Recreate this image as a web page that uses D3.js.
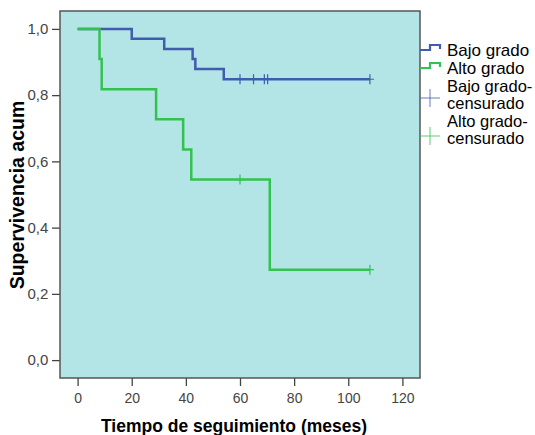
<!DOCTYPE html>
<html>
<head>
<meta charset="utf-8">
<script src="https://cdn.jsdelivr.net/npm/d3@7"></script>
<style>
  body { margin: 0; background: #fff; }
  text { font-family: Arial, "Liberation Sans", sans-serif; }
</style>
</head>
<body>
<svg id="chart" width="535" height="435"></svg>
<script>
// Kaplan-Meier steps: [time, survival]
const bajoSteps = [[0, 1], [20, 0.970], [32, 0.939], [42.5, 0.909], [43.5, 0.879], [54, 0.848], [108, 0.848]];
const altoSteps = [[0, 1], [8.1, 0.909], [8.9, 0.818], [29, 0.727], [39, 0.636], [42, 0.545], [71, 0.273], [108, 0.273]];
// censored observations
const bajoCens = [[60, 0.848], [65, 0.848], [69, 0.848], [70.2, 0.848], [108, 0.848]];
const altoCens = [[60, 0.545], [108, 0.273]];

const xTicks = [0, 20, 40, 60, 80, 100, 120];
const yTicks = [0, 0.2, 0.4, 0.6, 0.8, 1.0];

const BLUE = '#3f5cae';
const GREEN = '#33c24f';

const svg = d3.select('#chart');
const margin = {top: 11, right: 115, bottom: 57, left: 60};
const width = 535 - margin.left - margin.right;
const height = 435 - margin.top - margin.bottom;

const xScale = d3.scaleLinear().domain([-6.5, 126.5]).range([0, width]);
const yScale = d3.scaleLinear().domain([-0.054, 1.054]).range([height, 0]);

const chart = svg.append('g')
    .attr('transform', `translate(${margin.left},${margin.top})`);

// plot background
chart.append('rect')
    .attr('width', width)
    .attr('height', height)
    .attr('fill', '#b4e5e6');

// axes
const fmt = d => d3.format('.1f')(d).replace('.', ',');
const yAxis = chart.append('g')
    .call(d3.axisLeft(yScale).tickValues(yTicks).tickFormat(fmt).tickSize(8).tickSizeOuter(0));
const xAxis = chart.append('g')
    .attr('transform', `translate(0,${height})`)
    .call(d3.axisBottom(xScale).tickValues(xTicks).tickSize(8).tickSizeOuter(0));

[xAxis, yAxis].forEach(g => {
    g.select('.domain').remove();
    g.selectAll('line').attr('stroke', '#444').attr('stroke-width', 1.3);
    g.selectAll('text').attr('fill', '#444').style('font-size', '15px');
});
xAxis.selectAll('text').attr('y', 20).attr('dy', '0.35em').style('font-size', '14px');
yAxis.selectAll('text').attr('dx', '-0.05em');

// frame
chart.append('rect')
    .attr('width', width)
    .attr('height', height)
    .attr('fill', 'none')
    .attr('stroke', '#555')
    .attr('stroke-width', 1.5);

// step curves
const line = d3.line()
    .x(d => xScale(d[0]))
    .y(d => yScale(d[1]))
    .curve(d3.curveStepAfter);

chart.append('path')
    .datum(bajoSteps)
    .attr('d', line)
    .attr('fill', 'none')
    .attr('stroke', BLUE)
    .attr('stroke-width', 2.5);

chart.append('path')
    .datum(altoSteps)
    .attr('d', line)
    .attr('fill', 'none')
    .attr('stroke', GREEN)
    .attr('stroke-width', 2.5);

// censor marks
function drawCens(data, color) {
    chart.selectAll(null)
        .data(data)
        .join('path')
        .attr('d', d => {
            const x = xScale(d[0]), y = yScale(d[1]);
            return `M${x - 4},${y}H${x + 4}M${x},${y - 5}V${y + 5}`;
        })
        .attr('stroke', color)
        .attr('stroke-width', 1.2)
        .attr('fill', 'none');
}
drawCens(bajoCens, BLUE);
drawCens(altoCens, GREEN);

// axis titles
svg.append('text')
    .attr('x', 234)
    .attr('y', 431.5)
    .attr('text-anchor', 'middle')
    .attr('font-weight', 'bold')
    .style('font-size', '17.5px')
    .text('Tiempo de seguimiento (meses)');

svg.append('text')
    .attr('transform', 'translate(24,195) rotate(-90)')
    .attr('text-anchor', 'middle')
    .attr('font-weight', 'bold')
    .style('font-size', '19.5px')
    .text('Supervivencia acum');

// legend
const legend = svg.append('g').attr('transform', 'translate(420,0)');
const stepSym = 'M0,5H10V0H20V4';
[[BLUE, 'Bajo grado', 45, 56], [GREEN, 'Alto grado', 63, 74]].forEach(([c, label, y, by]) => {
    legend.append('path')
        .attr('d', stepSym)
        .attr('transform', `translate(0,${y})`)
        .attr('fill', 'none')
        .attr('stroke', c)
        .attr('stroke-width', 2.2);
    legend.append('text')
        .attr('x', 27).attr('y', by)
        .style('font-size', '17px')
        .attr('fill', '#000')
        .text(label);
});
// censored entries: two text lines each
[[BLUE, 'Bajo grado-', 92, 98], [GREEN, 'Alto grado-', 127, 136]].forEach(([c, label, by, py]) => {
    legend.append('path')
        .attr('d', `M0,${py}H20M10,${py - 9}V${py + 9}`)
        .attr('stroke', c)
        .attr('stroke-opacity', 0.8)
        .attr('stroke-width', 1);
    legend.append('text')
        .attr('x', 27).attr('y', by)
        .style('font-size', '16.5px')
        .attr('fill', '#000')
        .text(label);
    legend.append('text')
        .attr('x', 27).attr('y', by + 17)
        .style('font-size', '16.5px')
        .attr('fill', '#000')
        .text('censurado');
});
</script>
</body>
</html>
